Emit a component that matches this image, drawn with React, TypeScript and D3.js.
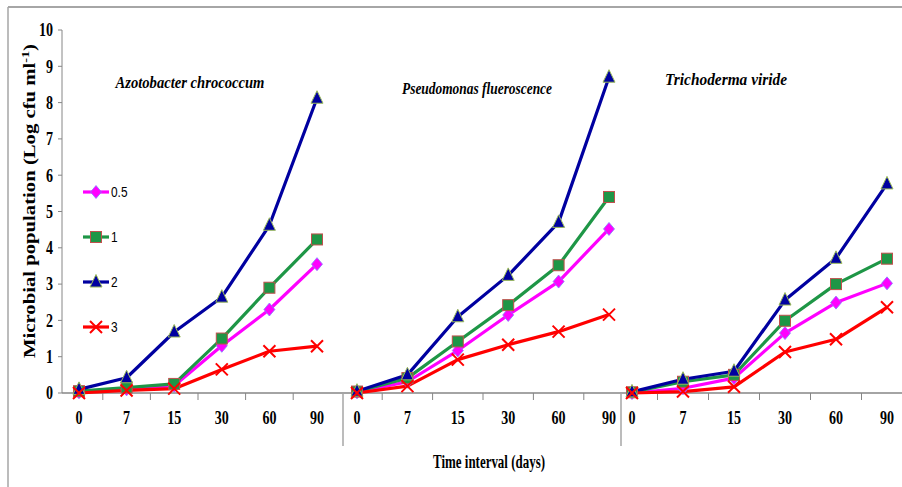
import React from "react";
import * as d3 from "d3";

const days = ["0", "7", "15", "30", "60", "90"];
const panels = ["Azotobacter chrococcum", "Pseudomonas flueroscence", "Trichoderma viride"];
const seriesNames = ["0.5", "1", "2", "3"];

// values per panel, per series (0.5, 1, 2, 3)
const azotobacter05 = [0.02, 0.1, 0.2, 1.3, 2.3, 3.55];
const azotobacter1 = [0.05, 0.15, 0.25, 1.5, 2.9, 4.23];
const azotobacter2 = [0.1, 0.42, 1.68, 2.64, 4.62, 8.12];
const azotobacter3 = [0.0, 0.07, 0.12, 0.65, 1.15, 1.29];

const pseudomonas05 = [0.02, 0.31, 1.17, 2.15, 3.07, 4.52];
const pseudomonas1 = [0.04, 0.41, 1.42, 2.42, 3.52, 5.4];
const pseudomonas2 = [0.05, 0.5, 2.1, 3.24, 4.7, 8.7];
const pseudomonas3 = [0.0, 0.19, 0.92, 1.33, 1.69, 2.16];

const trichoderma05 = [0.0, 0.13, 0.41, 1.65, 2.49, 3.02];
const trichoderma1 = [0.02, 0.31, 0.5, 1.99, 3.0, 3.7];
const trichoderma2 = [0.03, 0.38, 0.6, 2.56, 3.71, 5.76];
const trichoderma3 = [0.0, 0.04, 0.17, 1.13, 1.48, 2.36];

const yTicks = [0, 1, 2, 3, 4, 5, 6, 7, 8, 9, 10];

const panelData = [
  [azotobacter05, azotobacter1, azotobacter2, azotobacter3],
  [pseudomonas05, pseudomonas1, pseudomonas2, pseudomonas3],
  [trichoderma05, trichoderma1, trichoderma2, trichoderma3],
];

const W = 902;
const H = 487;
const y = d3.scaleLinear().domain([0, 10]).range([393, 30]);
const panelRanges: [number, number][] = [
  [79, 317],
  [357, 609],
  [632, 887],
];
const xScales = panelRanges.map((r) => d3.scalePoint<string>().domain(days).range(r));
const separators = [343, 621];
const titlePos = [
  { x: 190, y: 88, w: 149 },
  { x: 477, y: 94, w: 150 },
  { x: 726, y: 85, w: 122 },
];

const lineColors = ["#FF00FF", "#1E9646", "#0000A0", "#FF0000"];
const markerFill = ["#FF00FF", "#1E9646", "#0000A0", "#FF0000"];
const markerStroke = ["#8080FF", "#C0504D", "#9BBB59", "#FF0000"];

function Marker({ kind, cx, cy }: { kind: number; cx: number; cy: number }) {
  if (kind === 0) {
    const s = 6.5;
    return (
      <path
        d={`M${cx},${cy - s}L${cx + s - 1},${cy}L${cx},${cy + s}L${cx - s + 1},${cy}Z`}
        fill={markerFill[0]}
        stroke={markerStroke[0]}
        strokeWidth={0.8}
      />
    );
  }
  if (kind === 1) {
    const s = 5.5;
    return (
      <rect x={cx - s} y={cy - s} width={2 * s} height={2 * s} fill={markerFill[1]} stroke={markerStroke[1]} strokeWidth={1} />
    );
  }
  if (kind === 2) {
    const s = 6;
    return (
      <path
        d={`M${cx},${cy - s - 1.5}L${cx + s},${cy + s - 1}L${cx - s},${cy + s - 1}Z`}
        fill={markerFill[2]}
        stroke={markerStroke[2]}
        strokeWidth={1}
      />
    );
  }
  const s = 6;
  return (
    <path
      d={`M${cx - s},${cy - s}L${cx + s},${cy + s}M${cx - s},${cy + s}L${cx + s},${cy - s}`}
      stroke={markerFill[3]}
      strokeWidth={2}
      fill="none"
    />
  );
}

const serif = "'Liberation Serif', 'DejaVu Serif', serif";
const sans = "'Liberation Sans', Arial, sans-serif";

function CondText({
  x,
  y: ty,
  anchor,
  size,
  children,
}: {
  x: number;
  y: number;
  anchor: "start" | "middle" | "end";
  size: number;
  children: React.ReactNode;
}) {
  return (
    <g transform={`translate(${x},${ty}) scale(0.78,1)`}>
      <text x={0} y={0} dy="0.35em" textAnchor={anchor} fontFamily={serif} fontWeight="bold" fontSize={size} fill="#000">
        {children}
      </text>
    </g>
  );
}

export default function App() {
  return (
    <svg
      width={W}
      height={H}
      style={{ position: "fixed", left: 0, top: 0, background: "#fff" }}
      viewBox={`0 0 ${W} ${H}`}
    >
      <rect x={0} y={0} width={W} height={H} fill="#fff" />
      {/* outer frame */}
      <line x1={8} y1={7} x2={W} y2={7} stroke="#A6A6A6" strokeWidth={2} />
      <line x1={8} y1={7} x2={8} y2={H} stroke="#A6A6A6" strokeWidth={1.5} />

      {/* y axis */}
      <line x1={62} y1={y(10)} x2={62} y2={y(0)} stroke="#868686" strokeWidth={1} />
      {yTicks.map((t) => (
        <g key={t}>
          <line x1={58} x2={62} y1={y(t)} y2={y(t)} stroke="#868686" />
          <CondText x={53} y={y(t)} anchor="end" size={18}>
            {t}
          </CondText>
        </g>
      ))}
      <text
        transform={`translate(29,201) rotate(-90)`}
        textAnchor="middle"
        fontFamily={serif}
        fontWeight="bold"
        fontSize={16}
        dy="0.35em"
        textLength={314}
        lengthAdjust="spacingAndGlyphs"
      >
        Microbial population  (Log cfu ml
        <tspan dy="-6" fontSize={11}>-1</tspan>
        <tspan dy="6">)</tspan>
      </text>

      {/* x axis */}
      <line x1={62} y1={393} x2={W} y2={393} stroke="#868686" strokeWidth={1.5} />
      {separators.map((sx) => (
        <line key={sx} x1={sx} x2={sx} y1={393} y2={446} stroke="#A6A6A6" strokeWidth={1.5} />
      ))}
      {xScales.map((xs, pi) => {
        const step = xs.step();
        return (
          <g key={pi}>
            {days.slice(1).map((d) => (
              <line
                key={d}
                x1={(xs(d) as number) - step / 2}
                x2={(xs(d) as number) - step / 2}
                y1={393}
                y2={400}
                stroke="#868686"
              />
            ))}
            {days.map((d) => (
              <CondText key={d} x={xs(d) as number} y={418} anchor="middle" size={18}>
                {d}
              </CondText>
            ))}
          </g>
        );
      })}
      <text
        x={489}
        y={462}
        dy="0.35em"
        textAnchor="middle"
        fontFamily={serif}
        fontWeight="bold"
        fontSize={18}
        textLength={112}
        lengthAdjust="spacingAndGlyphs"
      >
        Time interval (days)
      </text>

      {/* titles */}
      {panels.map((p, i) => (
        <text
          key={p}
          x={titlePos[i].x}
          y={titlePos[i].y}
          textAnchor="middle"
          fontFamily={serif}
          fontStyle="italic"
          fontWeight="bold"
          fontSize={17}
          textLength={titlePos[i].w}
          lengthAdjust="spacingAndGlyphs"
        >
          {p}
        </text>
      ))}

      {/* series */}
      {panelData.map((series, pi) => {
        const xs = xScales[pi];
        return (
          <g key={pi}>
            {series.map((vals, si) => {
              const line = d3
                .line<number>()
                .x((_, i) => xs(days[i]) as number)
                .y((v) => y(v));
              return (
                <path
                  key={si}
                  d={line(vals) || ""}
                  fill="none"
                  stroke={lineColors[si]}
                  strokeWidth={3.2}
                  strokeLinejoin="round"
                />
              );
            })}
            {series.map((vals, si) => (
              <g key={"m" + si}>
                {vals.map((v, i) => (
                  <Marker key={i} kind={si} cx={xs(days[i]) as number} cy={y(v)} />
                ))}
              </g>
            ))}
          </g>
        );
      })}

      {/* legend */}
      {seriesNames.map((n, i) => {
        const ly = [192, 237, 282, 327][i];
        return (
          <g key={n}>
            <line x1={83} x2={109} y1={ly} y2={ly} stroke={lineColors[i]} strokeWidth={3.2} />
            <Marker kind={i} cx={96} cy={ly} />
            <g transform={`translate(111,${ly}) scale(0.85,1)`}>
              <text x={0} y={0} dy="0.35em" fontFamily={sans} fontSize={14}>
                {n}
              </text>
            </g>
          </g>
        );
      })}
    </svg>
  );
}
